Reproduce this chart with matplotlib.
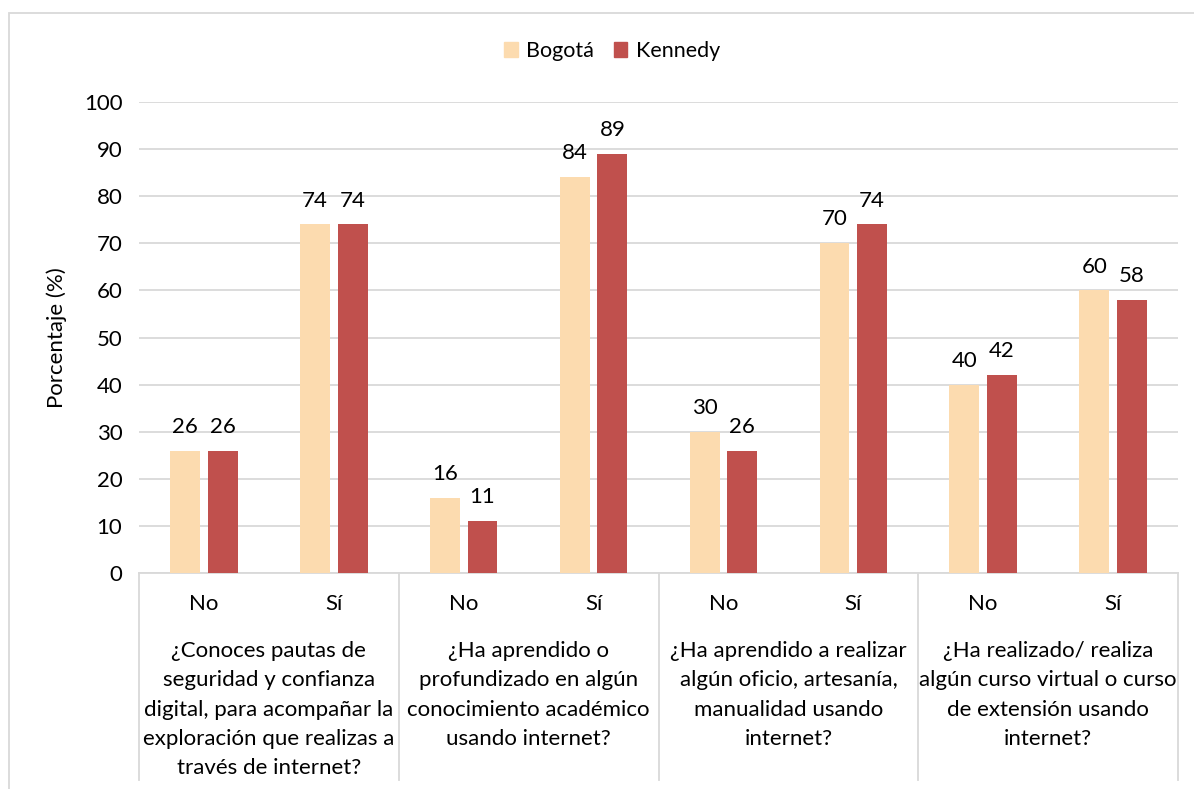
import matplotlib
matplotlib.use('Agg')
import matplotlib.pyplot as plt
import matplotlib.transforms as mtransforms
from matplotlib.patches import Patch, Rectangle
import numpy as np

plt.rcParams['font.family'] = ['Lato', 'DejaVu Sans']

# data
questions = [
    '¿Conoces pautas de\nseguridad y confianza\ndigital, para acompañar la\nexploración que realizas a\ntravés de internet?',
    '¿Ha aprendido o\nprofundizado en algún\nconocimiento académico\nusando internet?',
    '¿Ha aprendido a realizar\nalgún oficio, artesanía,\nmanualidad usando\ninternet?',
    '¿Ha realizado/ realiza\nalgún curso virtual o curso\nde extensión usando\ninternet?',
]
answers = ['No', 'Sí']
bogota = [26, 74, 16, 84, 30, 70, 40, 60]
kennedy = [26, 74, 11, 89, 26, 74, 42, 58]

C_BOG = '#FCDBAF'
C_KEN = '#C0504D'
GRID = '#D9D9D9'
FS = 16

W, H = 1194, 789
fig = plt.figure(figsize=(W / 100, H / 100), dpi=100)
ax = fig.add_axes([139 / W, (H - 573) / H, (1178 - 139) / W, (573 - 102) / H])

# outer chart border
fig.patches.append(Rectangle((8.5 / W, -0.05), 1.2, (H - 12.5) / H + 0.05,
                             transform=fig.transFigure, fill=False,
                             edgecolor=GRID, linewidth=1.3))

x = np.arange(len(bogota))
bw = 0.23
off = 0.145
b1 = ax.bar(x - off, bogota, bw, color=C_BOG, label='Bogotá', zorder=3)
b2 = ax.bar(x + off, kennedy, bw, color=C_KEN, label='Kennedy', zorder=3)
for bars in (b1, b2):
    ax.bar_label(bars, padding=10, fontsize=FS, color='black')

ax.set_xlim(-0.5, len(bogota) - 0.5)
ax.set_ylim(0, 100)
ax.set_yticks(range(0, 101, 10))
ax.tick_params(axis='y', length=0, labelsize=FS, pad=12)
ax.tick_params(axis='x', length=0, labelbottom=False)
ax.yaxis.grid(True, color=GRID, linewidth=1.3, zorder=0)
for s in ('top', 'right', 'left'):
    ax.spines[s].set_visible(False)
ax.spines['bottom'].set_color(GRID)
ax.spines['bottom'].set_linewidth(1.3)
ax.set_ylabel('Porcentaje (%)', fontsize=FS, labelpad=12)

# multi-level category axis
trans = mtransforms.blended_transform_factory(ax.transData, ax.transAxes)
ybot = -(780 - 573) / (573 - 102)
for g in range(len(questions) + 1):
    xs = g * 2 - 0.5
    ax.plot([xs, xs], [0, ybot], transform=trans, color=GRID,
            linewidth=1.3, clip_on=False)
for i in x:
    ax.text(i, -(604 - 573) / (573 - 102), answers[i % 2], transform=trans,
            ha='center', va='center', fontsize=FS)
for g, q in enumerate(questions):
    ax.text(g * 2 + 0.5, -(641 - 573) / (573 - 102), q, transform=trans,
            ha='center', va='top', fontsize=FS, linespacing=1.58)

handles = [Patch(color=C_BOG, label='Bogotá'), Patch(color=C_KEN, label='Kennedy')]
fig.legend(handles=handles, loc='center', bbox_to_anchor=(612 / W, 1 - 51 / H),
           ncol=2, frameon=False, fontsize=15.5, handlelength=0.65,
           handleheight=0.65, handletextpad=0.4, columnspacing=0.9)

plt.savefig('out.png', dpi=100)
